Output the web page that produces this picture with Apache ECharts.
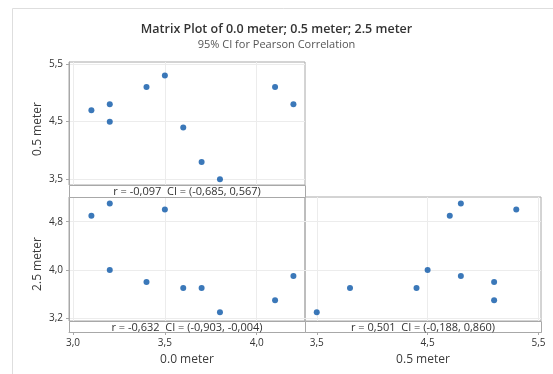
<!DOCTYPE html>
<html>
<head>
<meta charset="utf-8">
<script src="https://cdn.jsdelivr.net/npm/echarts@6/dist/echarts.min.js"></script>
<style>
  html, body { margin: 0; padding: 0; background: #fff; }
  #chart { width: 553px; height: 374px; }
</style>
</head>
<body>
<div id="chart"></div>
<script>
// values
var meter00 = [3.1, 3.2, 3.2, 3.4, 3.5, 3.6, 3.7, 3.8, 4.1, 4.2];
var meter05 = [4.7, 4.8, 4.5, 5.1, 5.3, 4.4, 3.8, 3.5, 5.1, 4.8];
var meter25 = [4.9, 5.1, 4.0, 3.8, 5.0, 3.7, 3.7, 3.3, 3.5, 3.9];

var ticks00 = [3.0, 3.5, 4.0];
var ticks05 = [3.5, 4.5, 5.5];
var ticks25 = [3.2, 4.0, 4.8];

var varNames = ['0.0 meter', '0.5 meter', '2.5 meter'];
// r and CI for each panel
var corrText = [
  'r = -0,097  CI = (-0,685, 0,567)',
  'r = -0,632  CI = (-0,903, -0,004)',
  'r = 0,501  CI = (-0,188, 0,860)'
];

var FONT = '"Segoe UI", "Open Sans", "Noto Sans", sans-serif';
var BORDER = '#a8a8a8';
var GRIDC = '#ececec';
var DOT = '#0a56a8';

function fmt(v) {
  return v.toFixed(1).replace('.', ',');
}

function pairs(xs, ys) {
  var out = [];
  for (var i = 0; i < xs.length; i++) out.push([xs[i], ys[i]]);
  return out;
}

// one axis for a panel
function axis(gridIndex, min, max, ticks, showLabels, offset) {
  return {
    type: 'value',
    gridIndex: gridIndex,
    min: min,
    max: max,
    offset: offset || 0,
    axisLine: { show: showLabels, lineStyle: { color: BORDER } },
    axisTick: { show: showLabels, customValues: ticks, length: 3, lineStyle: { color: BORDER } },
    axisLabel: {
      show: showLabels, customValues: ticks, formatter: fmt,
      fontFamily: FONT, fontSize: 10, color: '#333', margin: 6
    },
    splitLine: { show: true, lineStyle: { color: GRIDC, width: 1 } }
  };
}

// panel boxes (plot area, without the r/CI strip)
var panels = [
  { left: 69, top: 62, width: 236, height: 123 },
  { left: 69, top: 197, width: 236, height: 124 },
  { left: 305, top: 197, width: 236, height: 124 }
];
var stripH = [12, 11, 11];

var chart = echarts.init(document.getElementById('chart'), null, { renderer: 'canvas' });

var graphics = [
  { type: 'rect', shape: { x: 12.5, y: 8.5, width: 600, height: 420 },
    style: { fill: 'none', stroke: '#dedede', lineWidth: 1 }, z: 0 }
];

panels.forEach(function (p, i) {
  graphics.push({
    type: 'rect', z: 100,
    shape: { x: p.left + 0.5, y: p.top + p.height + 0.5, width: p.width, height: stripH[i] },
    style: { fill: '#fff', stroke: BORDER, lineWidth: 1 }
  });
  graphics.push({
    type: 'text', z: 101,
    x: p.left + p.width / 2, y: p.top + p.height + stripH[i] / 2 + 1,
    style: {
      text: corrText[i], fontFamily: FONT, fontSize: 11, fill: '#333',
      align: 'center', verticalAlign: 'middle'
    }
  });
});

// axis names
var nameStyle = { fontFamily: FONT, fontSize: 12, fill: '#3c3c3c', align: 'center', verticalAlign: 'middle' };
function nameText(txt, x, y, rot) {
  return { type: 'text', x: x, y: y, rotation: rot || 0,
    style: Object.assign({ text: txt }, nameStyle) };
}
graphics.push(
  nameText(varNames[0], 187, 360),
  nameText(varNames[1], 423, 360),
  nameText(varNames[1], 38, 129, Math.PI / 2),
  nameText(varNames[2], 38, 264, Math.PI / 2)
);

var option = {
  backgroundColor: '#fff',
  animation: false,
  title: {
    text: 'Matrix Plot of 0.0 meter; 0.5 meter; 2.5 meter',
    subtext: '95% CI for Pearson Correlation',
    left: 'center',
    top: 18,
    itemGap: 3,
    textStyle: { fontFamily: FONT, fontSize: 12.5, fontWeight: 600, color: '#333' },
    subtextStyle: { fontFamily: FONT, fontSize: 11, color: '#555' }
  },
  grid: panels.map(function (p) {
    return {
      left: p.left, top: p.top, width: p.width, height: p.height,
      show: true, borderColor: BORDER, borderWidth: 1, containLabel: false
    };
  }),
  xAxis: [
    axis(0, 2.978, 4.263, ticks00, false),
    axis(1, 2.978, 4.263, ticks00, true, 11),
    axis(2, 3.394, 5.523, ticks05, true, 11)
  ],
  yAxis: [
    axis(0, 3.401, 5.535, ticks05, true),
    axis(1, 3.155, 5.209, ticks25, true),
    axis(2, 3.155, 5.209, ticks25, false)
  ],
  series: [
    { type: 'scatter', xAxisIndex: 0, yAxisIndex: 0, data: pairs(meter00, meter05) },
    { type: 'scatter', xAxisIndex: 1, yAxisIndex: 1, data: pairs(meter00, meter25) },
    { type: 'scatter', xAxisIndex: 2, yAxisIndex: 2, data: pairs(meter05, meter25) }
  ].map(function (s) {
    s.symbolSize = 6;
    s.itemStyle = { color: DOT };
    s.silent = true;
    return s;
  }),
  graphic: graphics
};

chart.setOption(option);
</script>
</body>
</html>
